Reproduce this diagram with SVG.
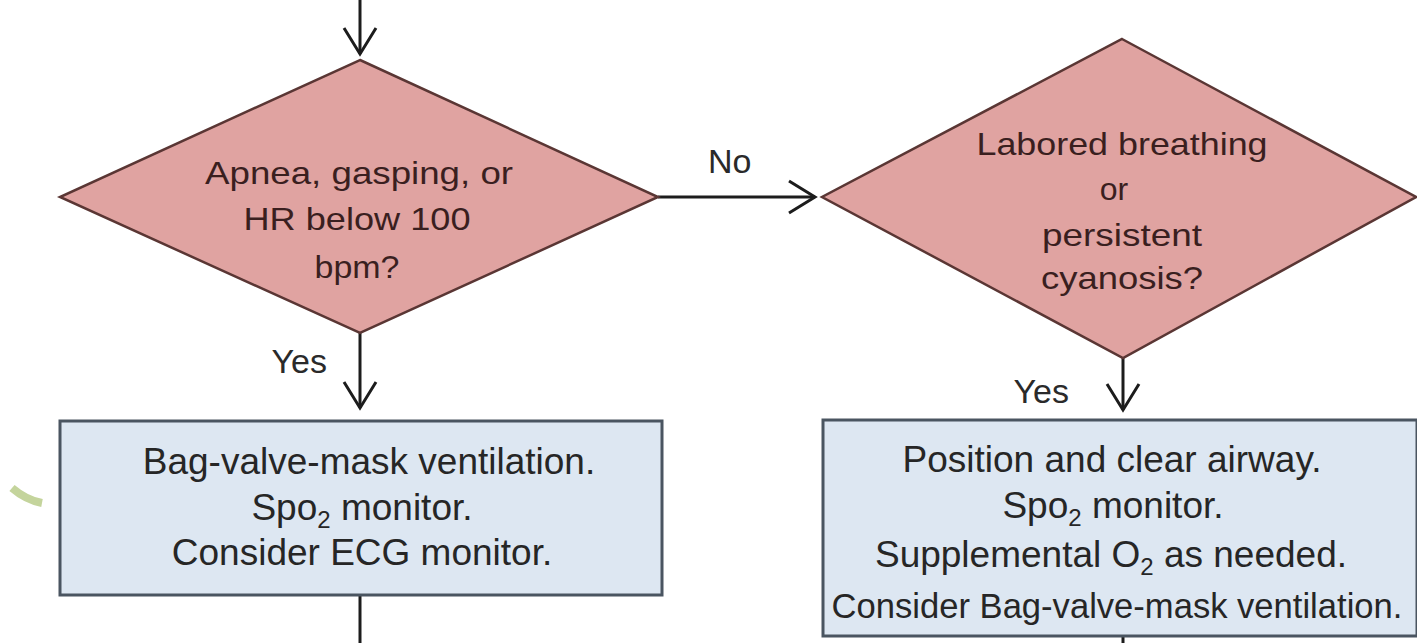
<svg xmlns="http://www.w3.org/2000/svg" width="1417" height="643" viewBox="0 0 1417 643">
<style>
.dia{fill:#e0a3a1;stroke:#5a3634;stroke-width:2.5}
.box{fill:#dde7f2;stroke:#4a5561;stroke-width:3}
.dt{font-family:"Liberation Sans",Arial,sans-serif;font-size:32px;fill:#3a1f1f;text-anchor:middle}
.bt{font-family:"Liberation Sans",Arial,sans-serif;font-size:37px;fill:#262626;text-anchor:middle}
.bts{font-size:34.6px}
.lbl{font-family:"Liberation Sans",Arial,sans-serif;font-size:34px;fill:#2a2a2a}
.con{stroke:#1c1c1c;stroke-width:3;fill:none}
</style>
<defs>
<marker id="arr" viewBox="-30 -20 34 40" refX="0" refY="0" markerWidth="34" markerHeight="40" markerUnits="userSpaceOnUse" orient="auto">
<path d="M-26,-16 L0,0 L-26,16" fill="none" stroke="#1c1c1c" stroke-width="3"/>
</marker>
</defs>
<rect width="1417" height="643" fill="#ffffff"/>
<path d="M12,488 Q26,500 42,503" fill="none" stroke="#c4d49c" stroke-width="8"/>
<g id="connectors">
<line class="con" x1="360" y1="0" x2="360" y2="54" marker-end="url(#arr)"/>
<line class="con" x1="360" y1="333" x2="360" y2="408" marker-end="url(#arr)"/>
<line class="con" x1="658" y1="197" x2="815" y2="197" marker-end="url(#arr)"/>
<line class="con" x1="1123" y1="358" x2="1123" y2="410" marker-end="url(#arr)"/>
<line class="con" x1="360" y1="595" x2="360" y2="643"/>
<line class="con" x1="1123" y1="636" x2="1123" y2="643"/>
<text class="lbl" x="708" y="173">No</text>
<text class="lbl" x="327" y="373" text-anchor="end">Yes</text>
<text class="lbl" x="1069" y="403" text-anchor="end">Yes</text>
</g>
<g id="decision1">
<polygon class="dia" points="360,60 658,197 360,333 60,197"/>
<text class="dt" x="359" y="184" textLength="308" lengthAdjust="spacingAndGlyphs">Apnea, gasping, or</text>
<text class="dt" x="357" y="230" textLength="227" lengthAdjust="spacingAndGlyphs">HR below 100</text>
<text class="dt" x="357" y="278" textLength="85" lengthAdjust="spacingAndGlyphs">bpm?</text>
</g>
<g id="decision2">
<polygon class="dia" points="1122,39 1416,197 1123,358 822,197"/>
<text class="dt" x="1122" y="155" textLength="291" lengthAdjust="spacingAndGlyphs">Labored breathing</text>
<text class="dt" x="1114" y="200">or</text>
<text class="dt" x="1122" y="246" textLength="160" lengthAdjust="spacingAndGlyphs">persistent</text>
<text class="dt" x="1122" y="289" textLength="162" lengthAdjust="spacingAndGlyphs">cyanosis?</text>
</g>
<g id="action1">
<rect class="box" x="60" y="421" width="602" height="174"/>
<text class="bt" x="369" y="474">Bag-valve-mask ventilation.</text>
<text class="bt" x="362" y="520">Spo<tspan font-size="24" dy="8">2</tspan><tspan dy="-8"> monitor.</tspan></text>
<text class="bt" x="362" y="565">Consider ECG monitor.</text>
</g>
<g id="action2">
<rect class="box" x="823" y="420" width="594" height="216"/>
<text class="bt" x="1112" y="472">Position and clear airway.</text>
<text class="bt" x="1113" y="518">Spo<tspan font-size="24" dy="8">2</tspan><tspan dy="-8"> monitor.</tspan></text>
<text class="bt" x="1111" y="567">Supplemental O<tspan font-size="24" dy="8">2</tspan><tspan dy="-8"> as needed.</tspan></text>
<text class="bt bts" x="1117" y="618">Consider Bag-valve-mask ventilation.</text>
</g>
</svg>
